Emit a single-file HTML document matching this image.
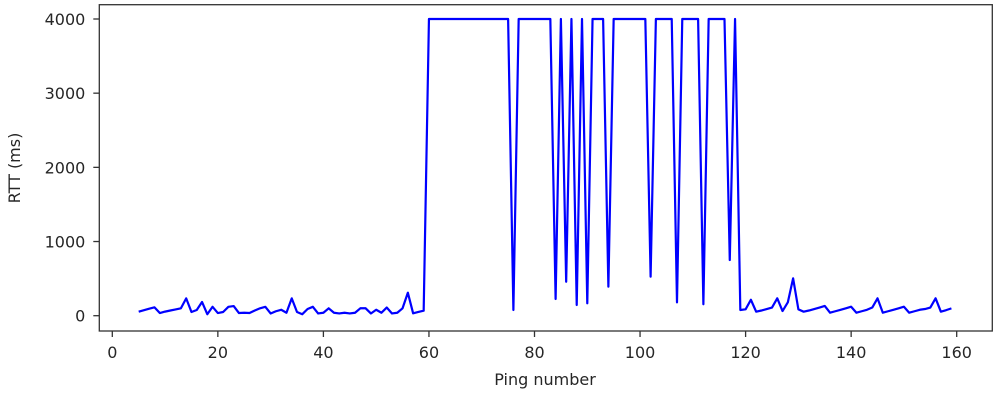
<!DOCTYPE html>
<html><head><meta charset="utf-8"><style>
html,body{margin:0;padding:0;background:#fff;}
svg{display:block;font-family:"DejaVu Sans","Liberation Sans",sans-serif;}
</style></head><body>
<svg id="chart" width="1004" height="400" viewBox="0 0 1004 400" xmlns="http://www.w3.org/2000/svg"></svg>
<script>
const pingNumbers = [];
for (let i = 5; i <= 159; i++) pingNumbers.push(i);
const rttValues = [54,75,95,113,36,55,70,85,100,234,50,77,185,20,120,36,50,120,130,36,40,36,70,100,120,30,60,80,40,234,50,20,90,120,30,40,100,40,30,40,30,40,100,100,30,80,40,110,30,40,100,310,32,50,67,
4000,4000,4000,4000,4000,4000,4000,4000,4000,4000,4000,4000,4000,4000,4000,4000,
77,4000,4000,4000,4000,4000,4000,4000,225,4000,458,4000,144,4000,167,4000,4000,4000,391,
4000,4000,4000,4000,4000,4000,4000,526,4000,4000,4000,4000,180,4000,4000,4000,4000,154,4000,4000,4000,4000,750,4000,
77,86,215,54,70,90,110,234,63,180,504,86,54,70,90,110,131,40,60,80,100,121,40,60,80,110,234,40,60,80,100,121,40,60,80,90,110,234,54,75,99];
const xTicks = [0,20,40,60,80,100,120,140,160];
const yTicks = [0,1000,2000,3000,4000];

const NS = "http://www.w3.org/2000/svg";
const svg = document.getElementById('chart');
const L = 99.3, R = 992.3, T = 4.7, B = 331;
const xs = v => 112.3 + v * (956.7 - 112.3) / 160;
const ys = v => 315.7 - v * (315.7 - 19) / 4000;
function mk(tag, attrs, parent) {
  const e = document.createElementNS(NS, tag);
  for (const k in attrs) e.setAttribute(k, attrs[k]);
  (parent || svg).appendChild(e);
  return e;
}
let d = '';
pingNumbers.forEach((x, i) => { d += (i ? 'L' : 'M') + xs(x).toFixed(2) + ' ' + ys(rttValues[i]).toFixed(2); });
const line = mk('path', {d: d, fill: 'none', stroke: '#0000ff', 'stroke-width': 2.2, 'stroke-linejoin': 'round'});


const frame = mk('rect', {x: L, y: T, width: R - L, height: B - T, fill: 'none', stroke: '#333', 'stroke-width': 1.3});


xTicks.forEach(t => {
  const g = mk('g', {});
  
  
  mk('line', {x1: xs(t), x2: xs(t), y1: B, y2: B + 6, stroke: '#333', 'stroke-width': 1.3}, g);
  const tx = mk('text', {x: xs(t), y: 358, 'text-anchor': 'middle', 'font-size': 16, fill: '#262626'}, g);
  tx.textContent = t;
});
yTicks.forEach(t => {
  const g = mk('g', {});
  
  
  mk('line', {x1: L - 6, x2: L, y1: ys(t), y2: ys(t), stroke: '#333', 'stroke-width': 1.3}, g);
  const tx = mk('text', {x: L - 14, y: ys(t) + 6, 'text-anchor': 'end', 'font-size': 16, fill: '#262626'}, g);
  tx.textContent = t;
});
const xl = mk('text', {x: 545, y: 385, 'text-anchor': 'middle', 'font-size': 16, fill: '#262626'});
xl.textContent = 'Ping number';


const yl = mk('text', {x: 0, y: 0, 'text-anchor': 'middle', 'font-size': 16, fill: '#262626', transform: 'translate(20,168) rotate(-90)'});
yl.textContent = 'RTT (ms)';


</script>
</body></html>
